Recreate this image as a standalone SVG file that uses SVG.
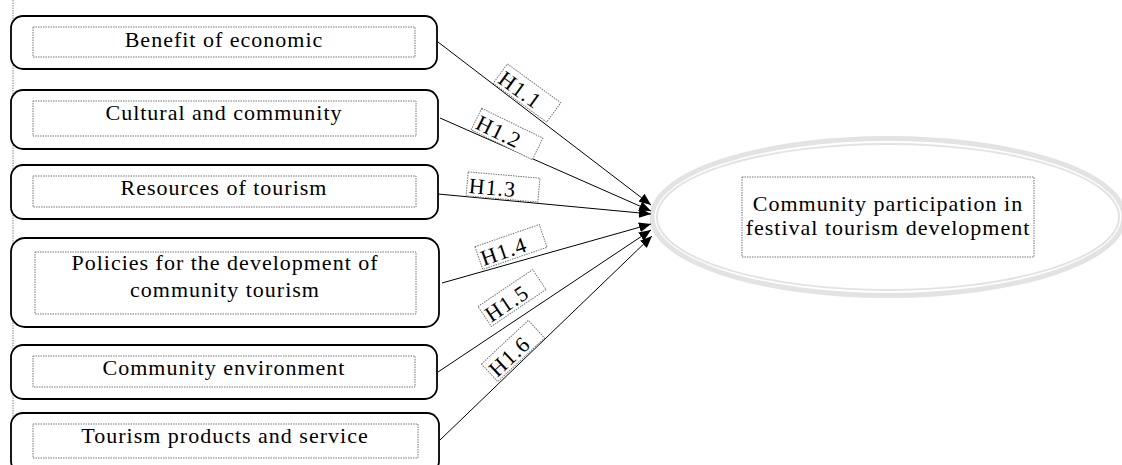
<svg xmlns="http://www.w3.org/2000/svg" width="1122" height="465" viewBox="0 0 1122 465">
<style>
.box{fill:#fff;stroke:#000;stroke-width:1.8}
.inner{fill:none;stroke:#777;stroke-width:1;stroke-dasharray:1.5 1}
.t{font-family:"Liberation Serif","Times New Roman",serif;font-size:22px;letter-spacing:1px;fill:#000;text-anchor:middle}
.lt{font-family:"Liberation Serif","Times New Roman",serif;font-size:22px;letter-spacing:1px;fill:#000}
.lab{fill:#fff;stroke:#777;stroke-width:1;stroke-dasharray:1.5 1}
.conn{stroke:#000;stroke-width:1;fill:none;marker-end:url(#ah)}
</style>
<defs>
<marker id="ah" viewBox="0 0 12 10" refX="12" refY="5" markerWidth="12" markerHeight="10" markerUnits="userSpaceOnUse" orient="auto">
<path d="M0,0 L12,5 L0,10 Z" fill="#000"/>
</marker>
</defs>
<rect width="1122" height="465" fill="#fff"/>
<line x1="13" y1="0" x2="13" y2="465" stroke="#888" stroke-width="1" stroke-dasharray="1.5 1"/>

<g id="n1">
<rect class="box" x="11" y="16" width="426" height="53" rx="12"/>
<rect class="inner" x="33" y="27" width="382" height="30"/>
<text class="t" x="224" y="47">Benefit of economic</text>
</g>
<g id="n2">
<rect class="box" x="11" y="90" width="427" height="59" rx="12"/>
<rect class="inner" x="33" y="101" width="383" height="35"/>
<text class="t" x="224" y="120">Cultural and community</text>
</g>
<g id="n3">
<rect class="box" x="11" y="165" width="427" height="54" rx="12"/>
<rect class="inner" x="33" y="176" width="383" height="31"/>
<text class="t" x="224" y="195">Resources of tourism</text>
</g>
<g id="n4">
<rect class="box" x="11" y="238" width="428" height="89" rx="14"/>
<rect class="inner" x="35" y="252" width="381" height="62"/>
<text class="t" x="225" y="270">Policies for the development of</text>
<text class="t" x="225" y="297">community tourism</text>
</g>
<g id="n5">
<rect class="box" x="11" y="345" width="426" height="54" rx="12"/>
<rect class="inner" x="33" y="356" width="382" height="31"/>
<text class="t" x="224" y="375">Community environment</text>
</g>
<g id="n6">
<rect class="box" x="11" y="413" width="428" height="60" rx="12"/>
<rect class="inner" x="33" y="424" width="385" height="34"/>
<text class="t" x="225" y="443">Tourism products and service</text>
</g>

<g id="target">
<ellipse cx="888" cy="217" rx="236" ry="78.5" fill="none" stroke="#e3e3e3" stroke-width="5"/>
<ellipse cx="888" cy="217" rx="231" ry="73" fill="none" stroke="#e3e3e3" stroke-width="2"/>
<rect class="inner" x="742" y="177" width="292" height="80" fill="#fff"/>
<text class="t" x="888" y="211">Community participation in</text>
<text class="t" x="888" y="235">festival tourism development</text>
</g>

<g id="connectors">
<line class="conn" x1="438" y1="42" x2="651" y2="205"/>
<line class="conn" x1="440" y1="118" x2="651" y2="211"/>
<line class="conn" x1="438" y1="194" x2="651" y2="214"/>
<line class="conn" x1="442" y1="283" x2="651" y2="224"/>
<line class="conn" x1="438" y1="372" x2="651" y2="230"/>
<line class="conn" x1="440" y1="440" x2="652" y2="236"/>
</g>

<g id="labels">
<g id="l1" transform="translate(527,93) rotate(36)">
<rect class="lab" x="-33" y="-12" width="66" height="24"/>
<text class="lt" x="-31" y="9">H1.1</text>
</g>
<g id="l2" transform="translate(507,134) rotate(26)">
<rect class="lab" x="-34" y="-12" width="68" height="24"/>
<text class="lt" x="-32" y="9">H1.2</text>
</g>
<g id="l3" transform="translate(503,187) rotate(5)">
<rect class="lab" x="-36" y="-12" width="72" height="24"/>
<text class="lt" x="-34" y="9">H1.3</text>
</g>
<g id="l4" transform="translate(511,247) rotate(-19)">
<rect class="lab" x="-34" y="-12" width="68" height="24"/>
<text class="lt" x="-32" y="9">H1.4</text>
</g>
<g id="l5" transform="translate(512,298) rotate(-34)">
<rect class="lab" x="-33" y="-12" width="66" height="24"/>
<text class="lt" x="-31" y="9">H1.5</text>
</g>
<g id="l6" transform="translate(513,351) rotate(-43)">
<rect class="lab" x="-32" y="-12" width="64" height="24"/>
<text class="lt" x="-30" y="9">H1.6</text>
</g>
</g>
</svg>
